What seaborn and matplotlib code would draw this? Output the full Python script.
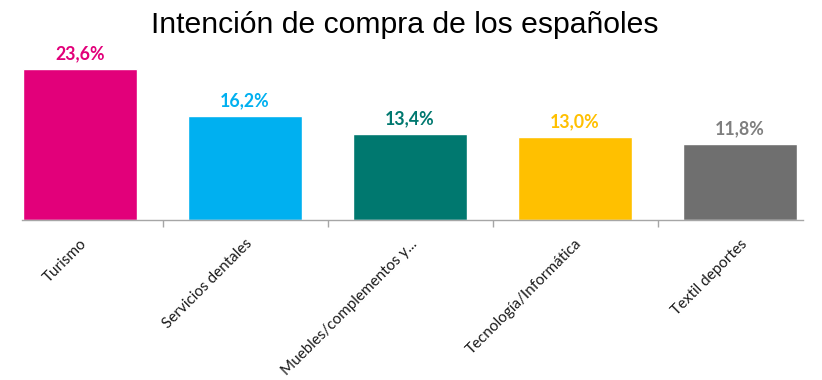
import matplotlib
matplotlib.use("Agg")
import matplotlib.pyplot as plt
import seaborn as sns
import pandas as pd

categories = ["Turismo", "Servicios dentales", "Muebles/complementos y...",
              "Tecnología/Informática", "Textil deportes"]
values = [23.6, 16.2, 13.4, 13.0, 11.8]
value_labels = ["23,6%", "16,2%", "13,4%", "13,0%", "11,8%"]
colors = ["#E2007A", "#00B0F0", "#00786F", "#FFC000", "#6F6F6F"]
label_colors = ["#E2007A", "#00B0F0", "#00786F", "#FFC000", "#7F7F7F"]
title = "Intención de compra de los españoles"

sns.set_theme(style="white")
plt.rcParams["font.family"] = ["Lato", "DejaVu Sans"]

df = pd.DataFrame({"cat": categories, "val": values})

fig = plt.figure(figsize=(8.22, 3.80), dpi=100)
ax = fig.add_axes([0, 1 - 220 / 380, 1, (220 - 53.6) / 380])

sns.barplot(data=df, x="cat", y="val", hue="cat", palette=colors,
            legend=False, width=0.69, ax=ax, saturation=1)

px_per_cat = 165.0
left = 0 - 80 / px_per_cat
right = left + 822 / px_per_cat
ax.set_xlim(left, right)
ax.set_ylim(0, 26)

for s in ["top", "right", "left"]:
    ax.spines[s].set_visible(False)
ax.spines["bottom"].set_color("#A6A6A6")
ax.spines["bottom"].set_linewidth(1.0)
ax.spines["bottom"].set_bounds(-0.35, 4.38)

ax.set_yticks([])
ax.set_xlabel("")
ax.set_ylabel("")
ax.set_xticks(range(len(categories)))
ax.set_xticklabels(categories, rotation=45, ha="right",
                   rotation_mode="anchor", fontsize=11, color="#1A1A1A")
ax.tick_params(axis="x", which="major", length=0, pad=12)
ax.set_xticks([0.5, 1.5, 2.5, 3.5], minor=True)
ax.tick_params(axis="x", which="minor", length=5, color="#A6A6A6",
               width=1, direction="out", bottom=True)

for i, (v, lab) in enumerate(zip(values, value_labels)):
    ax.annotate(lab, (i, v), xytext=(0, 5), textcoords="offset points",
                ha="center", va="bottom", fontsize=12.8, fontweight="bold",
                color=label_colors[i])

fig.text(0.493, 0.935, title, ha="center", va="center", fontsize=21.7,
         family=["Liberation Sans", "DejaVu Sans"], color="black")

fig.savefig("out.png", dpi=100)
